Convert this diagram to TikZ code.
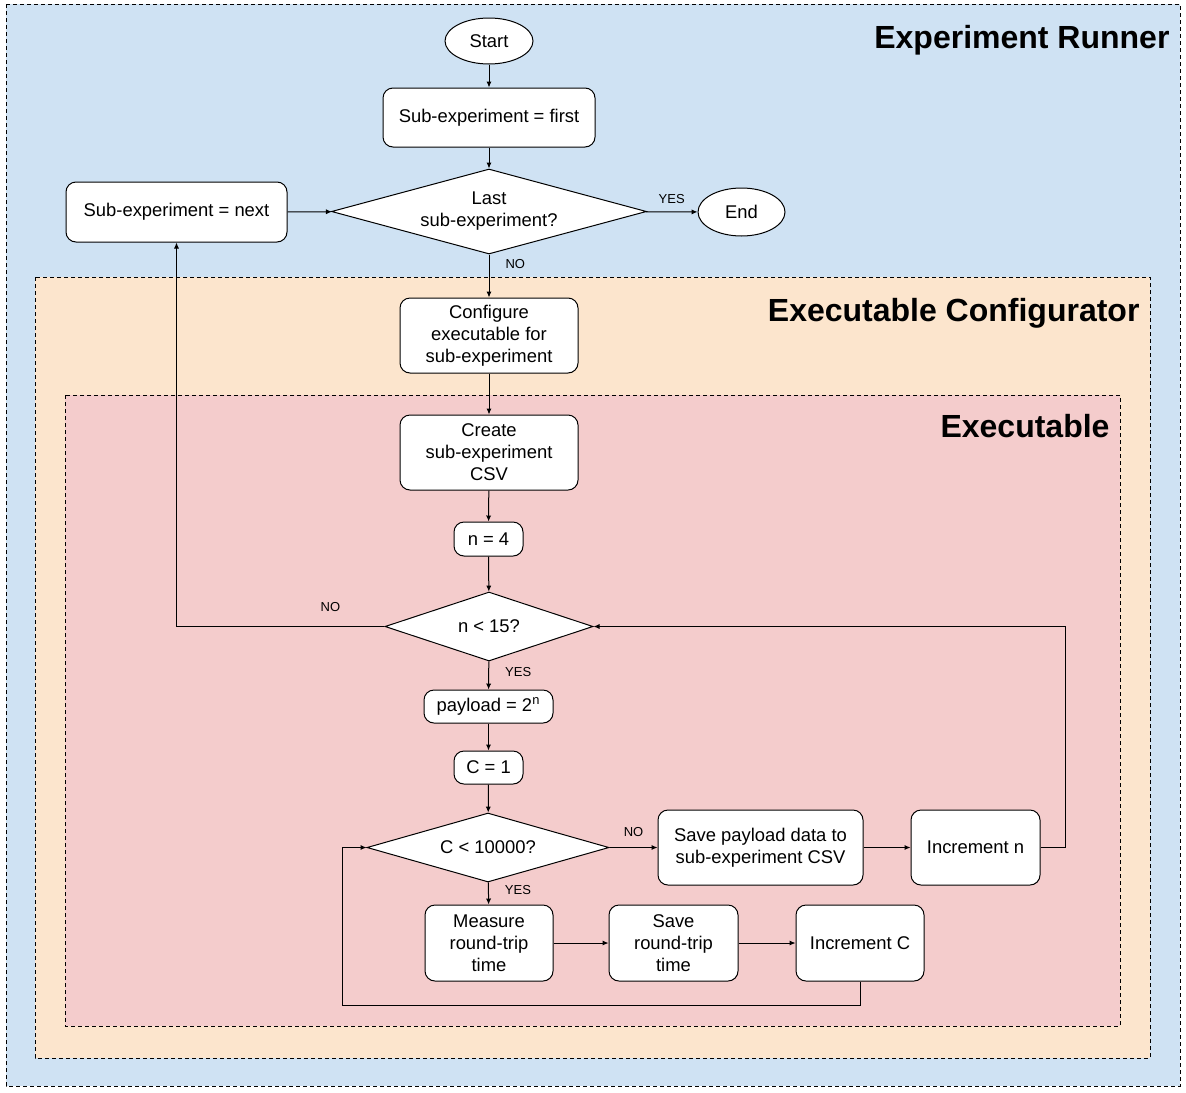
\documentclass[tikz,border=0pt]{standalone}
\usepackage{fontspec}
\setmainfont{Liberation Sans}
\usepackage{tikz}
\usetikzlibrary{arrows.meta,shapes.geometric}
\definecolor{runner}{HTML}{CFE2F3}
\definecolor{config}{HTML}{FCE5CD}
\definecolor{exec}{HTML}{F4CCCC}

\begin{document}
\begin{tikzpicture}[x=0.5pt,y=-0.5pt,line width=0.5pt,font=\fontsize{9.2}{11}\selectfont,
  panel/.style={draw,dash pattern=on 2pt off 1.5pt},
  title/.style={anchor=base east,inner sep=0pt,font=\fontsize{16}{18}\selectfont\bfseries},
  box/.style={draw,fill=white,rounded corners=5pt,align=center,inner sep=0pt},
  term/.style={draw,fill=white,ellipse,inner sep=0pt},
  dec/.style={draw,fill=white,diamond,align=center,inner sep=0pt},
  lbl/.style={font=\fontsize{6.5}{7}\selectfont,inner sep=0pt},
  flow/.style={-{Latex[length=3pt,width=2.6pt]}}]
  \useasboundingbox (0,0) rectangle (1186,1092);
  % nested panels
  \draw[panel,fill=runner] (6,4) rectangle (1180,1086);
  \draw[panel,fill=config] (35,277) rectangle (1150,1058);
  \draw[panel,fill=exec] (65,395) rectangle (1120,1026);
  \node[title] (runnert) at (1170,48) {Experiment Runner};
  \node[title] (configt) at (1140,321) {Executable Configurator};
  \node[title] (exect) at (1110,437) {Executable};
  % runner loop
  \node[term,minimum width=44pt,minimum height=23pt] (start) at (489,41) {Start};
  \node[box,minimum width=106pt,minimum height=29.5pt] (first) at (489,117.5) {Sub-experiment = first};
  \node[dec,minimum width=157.5pt,minimum height=42.5pt,shape aspect=3.7] (last) at (489,211.5) {Last\\sub-experiment?};
  \node[term,minimum width=43.5pt,minimum height=24pt] (end) at (741.5,212) {End};
  \node[box,minimum width=110.5pt,minimum height=30pt] (next) at (176.5,212) {Sub-experiment = next};
  \node[box,minimum width=89pt,minimum height=37.5pt] (setup) at (489,335.5) {Configure\\executable for\\sub-experiment};
  % executable
  \node[box,minimum width=89pt,minimum height=37.5pt] (csv) at (489,452.5) {Create\\sub-experiment\\CSV};
  \node[box,minimum width=34.5pt,minimum height=17pt] (nfour) at (488.5,539) {n = 4};
  \node[dec,minimum width=104pt,minimum height=34.5pt,shape aspect=3] (nless) at (489,626.5) {n < 15?};
  \node[box,minimum width=64.5pt,minimum height=16.5pt] (payload) at (488.5,706.5) {payload = 2\textsuperscript{n}};
  \node[box,minimum width=34.5pt,minimum height=16.5pt] (cone) at (488.5,767.5) {C = 1};
  \node[dec,minimum width=121pt,minimum height=34.5pt,shape aspect=3.5] (cless) at (488,847.5) {C < 10000?};
  \node[box,minimum width=102.5pt,minimum height=37.5pt] (savep) at (760.5,847.5) {Save payload data to\\sub-experiment CSV};
  \node[box,minimum width=64.5pt,minimum height=37.5pt] (incn) at (975.5,847.5) {Increment n};
  \node[box,minimum width=64pt,minimum height=38pt] (measure) at (489,943) {Measure\\round-trip\\time};
  \node[box,minimum width=64.5pt,minimum height=38pt] (saver) at (673.5,943) {Save\\round-trip\\time};
  \node[box,minimum width=64pt,minimum height=38pt] (incc) at (860,943) {Increment C};
  \coordinate (nback) at (1065,847.5);
  \coordinate (cback) at (342,1005);
  % connectors
  \draw[flow] (start) -- (first);
  \draw[flow] (first) -- (last);
  \draw[flow] (last) -- node[lbl,above=4pt] {YES} (end);
  \draw[flow] (last) -- node[lbl,pos=0.23,anchor=west,xshift=8pt] {NO} (setup);
  \draw[flow] (next) -- (last);
  \draw[flow] (setup) -- (csv);
  \draw[flow] (csv) -- (nfour);
  \draw[flow] (nfour) -- (nless);
  \draw[flow] (nless) -- node[lbl,pos=0.38,anchor=west,xshift=8pt] {YES} (payload);
  \draw[flow] (nless) -| node[lbl,pos=0.13,above=7pt] {NO} (next);
  \draw[flow] (payload) -- (cone);
  \draw[flow] (cone) -- (cless);
  \draw[flow] (cless) -- node[lbl,pos=0.35,anchor=west,xshift=8pt] {YES} (measure);
  \draw[flow] (cless) -- node[lbl,above=5pt] {NO} (savep);
  \draw[flow] (savep) -- (incn);
  \draw[flow] (incn) -- (nback) |- (nless);
  \draw[flow] (measure) -- (saver);
  \draw[flow] (saver) -- (incc);
  \draw[flow] (incc) |- (cback) |- (cless);
\end{tikzpicture}
\end{document}
